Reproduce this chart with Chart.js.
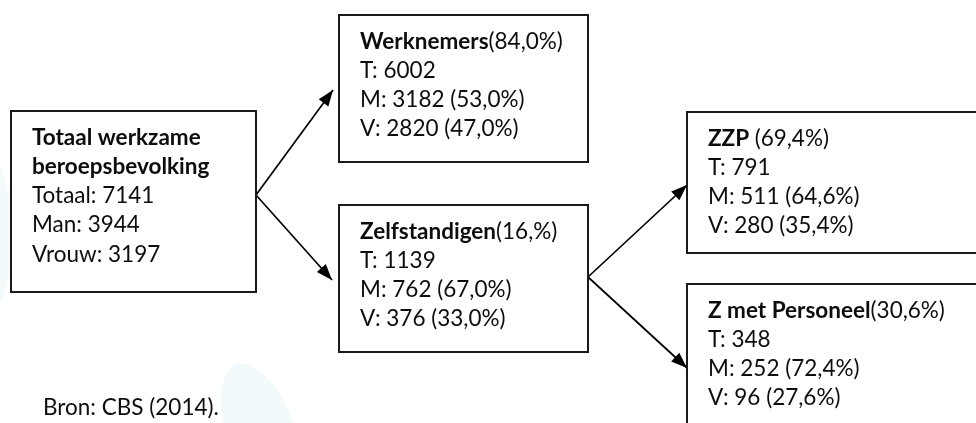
<!DOCTYPE html>
<html>
<head>
<meta charset="utf-8">
<script src="https://cdn.jsdelivr.net/npm/chart.js@4.4.1/dist/chart.umd.min.js"></script>
<style>
  html, body { margin: 0; padding: 0; background: #fff; }
  #wrap { width: 976px; height: 423px; }
</style>
</head>
<body>
<div id="wrap"><canvas id="myChart" width="976" height="423"></canvas></div>
<script>
// data
var nodeNames = [['Totaal werkzame', 'beroepsbevolking'], ['Werknemers'], ['Zelfstandigen'], ['ZZP '], ['Z met Personeel']];
var nodeShares = [null, '84,0%', '16,%', '69,4%', '30,6%'];
var totals = [7141, 6002, 1139, 791, 348];
var men = [3944, 3182, 762, 511, 252];
var women = [3197, 2820, 376, 280, 96];
var menShares = [null, '53,0%', '67,0%', '64,6%', '72,4%'];
var womenShares = [null, '47,0%', '33,0%', '35,4%', '27,6%'];
var links = [[0, 1], [0, 2], [2, 3], [2, 4]];
var sourceNote = 'Bron: CBS (2014).';

// layout of the boxes, in the units of the (hidden) x/y scales
var boxes = [
    { x: 11,  y: 111, w: 245, h: 181, outY: 84 },
    { x: 339, y: 15,  w: 249, h: 147, inY: 75, gap: 6 },
    { x: 339, y: 205, w: 249, h: 147, inY: 75, outY: 72, gap: 7 },
    { x: 687, y: 112, w: 320, h: 141, inY: 73, gap: 0 },
    { x: 687, y: 284, w: 320, h: 170, inY: 84, gap: 0 }
];

var FONT = 'Lato, "Open Sans", sans-serif';
var SIZE = 22.5;
var LINE = 29.3;

// arrow shafts as line datasets, built from the box layout
var arrowSets = links.map(function(l) {
    var a = boxes[l[0]], b = boxes[l[1]];
    return {
        type: 'line',
        data: [
            { x: a.x + a.w, y: a.y + a.outY },
            { x: b.x - b.gap, y: b.y + b.inY }
        ],
        borderColor: '#000',
        borderWidth: 1.7,
        pointRadius: 0,
        fill: false
    };
});

function boxLines(i) {
    if (i === 0) {
        return ['Totaal: ' + totals[i], 'Man: ' + men[i], 'Vrouw: ' + women[i]];
    }
    return ['T: ' + totals[i],
            'M: ' + men[i] + ' (' + menShares[i] + ')',
            'V: ' + women[i] + ' (' + womenShares[i] + ')'];
}

var diagramPlugin = {
    id: 'diagram',
    beforeDraw: function(chart) {
        var ctx = chart.ctx;
        var xs = chart.scales.x, ys = chart.scales.y;
        // faint watermark swooshes in the background
        ctx.save();
        ctx.fillStyle = 'rgba(222,240,244,0.35)';
        ctx.beginPath();
        ctx.ellipse(xs.getPixelForValue(-45), ys.getPixelForValue(235), 58, 110, 0, 0, Math.PI * 2);
        ctx.fill();
        ctx.beginPath();
        ctx.ellipse(xs.getPixelForValue(262), ys.getPixelForValue(435), 34, 75, -0.35, 0, Math.PI * 2);
        ctx.fill();
        ctx.restore();
    },
    afterDatasetsDraw: function(chart) {
        var ctx = chart.ctx;
        var xs = chart.scales.x, ys = chart.scales.y;
        ctx.save();

        // boxes
        ctx.strokeStyle = '#1a1a1a';
        ctx.lineWidth = 2;
        boxes.forEach(function(b) {
            var x0 = xs.getPixelForValue(b.x), y0 = ys.getPixelForValue(b.y);
            var x1 = xs.getPixelForValue(b.x + b.w), y1 = ys.getPixelForValue(b.y + b.h);
            ctx.fillStyle = '#fff';
            ctx.fillRect(x0, y0, x1 - x0, y1 - y0);
            ctx.strokeRect(x0, y0, x1 - x0, y1 - y0);
        });

        // arrow heads
        ctx.fillStyle = '#000';
        chart.data.datasets.forEach(function(ds) {
            var p0 = ds.data[0], p1 = ds.data[1];
            var ax = xs.getPixelForValue(p0.x), ay = ys.getPixelForValue(p0.y);
            var bx = xs.getPixelForValue(p1.x), by = ys.getPixelForValue(p1.y);
            var ang = Math.atan2(by - ay, bx - ax);
            var len = 16, half = 6;
            ctx.beginPath();
            ctx.moveTo(bx, by);
            ctx.lineTo(bx - len * Math.cos(ang) + half * Math.sin(ang), by - len * Math.sin(ang) - half * Math.cos(ang));
            ctx.lineTo(bx - len * Math.cos(ang) - half * Math.sin(ang), by - len * Math.sin(ang) + half * Math.cos(ang));
            ctx.closePath();
            ctx.fill();
        });

        // box texts
        ctx.fillStyle = '#0d0d0d';
        ctx.textBaseline = 'alphabetic';
        ctx.textAlign = 'left';
        boxes.forEach(function(b, i) {
            var tx = xs.getPixelForValue(b.x + 21);
            var ty = ys.getPixelForValue(b.y + 33.5);
            nodeNames[i].forEach(function(name, k) {
                ctx.font = 'bold ' + SIZE + 'px ' + FONT;
                ctx.fillText(name, tx, ty);
                if (k === nodeNames[i].length - 1 && nodeShares[i]) {
                    var w = ctx.measureText(name).width;
                    ctx.font = SIZE + 'px ' + FONT;
                    ctx.fillText('(' + nodeShares[i] + ')', tx + w, ty);
                }
                ty += LINE;
            });
            ctx.font = SIZE + 'px ' + FONT;
            boxLines(i).forEach(function(line) {
                ctx.fillText(line, tx, ty);
                ty += LINE;
            });
        });

        // source note
        ctx.font = SIZE + 'px ' + FONT;
        ctx.fillText(sourceNote, xs.getPixelForValue(43), ys.getPixelForValue(415));
        ctx.restore();
    }
};

var ctx = document.getElementById('myChart').getContext('2d');
var myChart = new Chart(ctx, {
    type: 'scatter',
    data: { datasets: arrowSets },
    options: {
        responsive: false,
        animation: false,
        layout: { padding: 0 },
        scales: {
            x: { type: 'linear', min: 0, max: 976, display: false },
            y: { type: 'linear', min: 0, max: 423, reverse: true, display: false }
        },
        plugins: {
            legend: { display: false },
            tooltip: { enabled: false }
        }
    },
    plugins: [diagramPlugin]
});
</script>
</body>
</html>
